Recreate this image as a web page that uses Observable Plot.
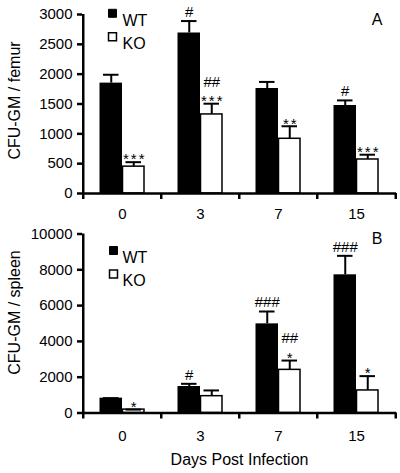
<!DOCTYPE html>
<html><head><meta charset="utf-8">
<script src="https://cdn.jsdelivr.net/npm/d3@7"></script>
<script src="https://cdn.jsdelivr.net/npm/@observablehq/plot@0.6"></script>
<style>
html,body{margin:0;padding:0;background:#fff;}
#chart svg{display:block;}
</style></head><body><div id="chart"></div>
<script>
// ---- data ----
const days = ["0", "3", "7", "15"];
const groups = ["WT", "KO"];
const panelLetters = ["A", "B"];
const yLabels = ["CFU-GM / femur", "CFU-GM / spleen"];
const xLabel = "Days Post Infection";

const femurWT = [1850, 2690, 1760, 1475];
const femurWTErr = [140, 200, 110, 85];
const femurKO = [450, 1325, 917, 570];
const femurKOErr = [75, 180, 210, 80];
const femurTicks = [0, 500, 1000, 1500, 2000, 2500, 3000];
const femurWTHash = ["", "#", "", "#"];
const femurKOStar = ["***", "***", "**", "***"];
const femurKOHash = ["", "##", "", ""];

const spleenWT = [830, 1480, 4980, 7720];
const spleenWTErr = [0, 150, 690, 1060];
const spleenKO = [190, 940, 2410, 1260];
const spleenKOErr = [0, 320, 520, 800];
const spleenTicks = [0, 2000, 4000, 6000, 8000, 10000];
const spleenWTHash = ["", "#", "###", "###"];
const spleenKOStar = ["*", "", "*", "*"];
const spleenKOHash = ["", "", "##", ""];

// ---- helpers ----
const rows = (vals, errs) => days.map((d, i) => ({day: d, value: vals[i], top: vals[i] + errs[i]}));
const ann = (labels, base) => days.map((d, i) => ({day: d, top: base[i].top, label: labels[i]})).filter(a => a.label);

function panel(o) {
  const W = 400, ML = 82, MR = 4;
  const bw = (W - ML - MR) / days.length;
  const wt = rows(o.wt, o.wtErr), ko = rows(o.ko, o.koErr);
  const yMax = o.ticks[o.ticks.length - 1];
  const axisW = 2.5;
  const marks = [
    Plot.barY(wt, {x: "day", y: "value", fill: "black", insetLeft: 16.5, insetRight: 39}),
    Plot.barY(ko, {x: "day", y: "value", fill: "white", stroke: "black", strokeWidth: 1.5, insetLeft: 39.5, insetRight: 17}),
    Plot.ruleX(wt, {x: "day", y1: "value", y2: "top", dx: -11.25, strokeWidth: 2}),
    Plot.ruleX(ko, {x: "day", y1: "value", y2: "top", dx: 11.25, strokeWidth: 2}),
    Plot.tickY(wt, {x: "day", y: "top", insetLeft: 20, insetRight: 42.5, strokeWidth: 2}),
    Plot.tickY(ko, {x: "day", y: "top", insetLeft: 42.5, insetRight: 20, strokeWidth: 2}),
    Plot.text(ann(o.wtHash, wt), {x: "day", y: "top", text: "label", dx: -11.25, dy: -9, fontSize: 15}),
    Plot.text(ann(o.koStar, ko), {x: "day", y: "top", text: "label", dx: 12.25, dy: -2.5, fontSize: 15}),
    Plot.text(ann(o.koHash, ko), {x: "day", y: "top", text: "label", dx: 11.25, dy: -22, fontSize: 15}),
    // axes
    Plot.axisY({ticks: o.ticks, tickFormat: d3.format("d"), tickSize: 5, tickPadding: 5, strokeWidth: axisW, label: null, fontSize: 15}),
    Plot.axisX({tickSize: 0, tickPadding: o.xPad, label: null, fontSize: 15}),
    Plot.ruleY([0], {strokeWidth: axisW}),
    Plot.ruleX([days[0]], {x: d => d, y1: yMax, y2: 0, dx: -bw / 2, insetBottom: -6, strokeWidth: axisW}),
    Plot.ruleX(days.slice(1), {x: d => d, y1: 0, y2: 0, dx: -bw / 2, insetBottom: -6, strokeWidth: axisW}),
    Plot.ruleX([days[days.length - 1]], {x: d => d, y1: 0, y2: 0, dx: bw / 2, insetBottom: -6, strokeWidth: axisW}),
    // y title
    Plot.text([o.ylabel], {frameAnchor: "left", text: d => d, rotate: -90, dx: -68, dy: o.yTitleDy, fontSize: 16, textAnchor: "middle", lineAnchor: "middle"}),
    // legend
    Plot.dot([groups[0]], {frameAnchor: "top-left", dx: o.legDx, dy: o.legDy[0], symbol: "square", r: 4.5, fill: "black", stroke: "black", strokeWidth: 1}),
    Plot.dot([groups[1]], {frameAnchor: "top-left", dx: o.legDx, dy: o.legDy[1], symbol: "square", r: 4.5, fill: "white", stroke: "black", strokeWidth: 1.5}),
    Plot.text([groups[0]], {frameAnchor: "top-left", text: d => d, dx: 40, dy: o.legDy[0] + 1, textAnchor: "start", fontSize: 16}),
    Plot.text([groups[1]], {frameAnchor: "top-left", text: d => d, dx: 40, dy: o.legDy[1] + 1, textAnchor: "start", fontSize: 16}),
    // panel letter
    Plot.text([o.letter], {frameAnchor: "top-right", text: d => d, dx: -14, dy: o.letterDy, fontSize: 16})
  ];
  if (o.xlabel) marks.push(Plot.text([o.xlabel], {frameAnchor: "bottom", text: d => d, dy: 51.5, lineAnchor: "bottom", fontSize: 16}));
  const svg = Plot.plot({
    width: W, height: o.height,
    marginLeft: ML, marginRight: MR, marginTop: o.mt, marginBottom: o.mb,
    x: {type: "band", domain: days, padding: 0},
    y: {domain: [0, yMax]},
    style: {fontFamily: "'Liberation Sans', Arial, sans-serif", fontSize: "15px", color: "black", background: "white", overflow: "visible"},
    marks
  });
  svg.querySelectorAll("text").forEach(t => { if (/^\*+$/.test(t.textContent)) t.style.letterSpacing = "2px"; });
  return svg;
}

const chart = document.getElementById("chart");
chart.append(panel({
  wt: femurWT, wtErr: femurWTErr, ko: femurKO, koErr: femurKOErr,
  wtHash: femurWTHash, koStar: femurKOStar, koHash: femurKOHash,
  ticks: femurTicks, ylabel: yLabels[0], letter: panelLetters[0],
  height: 226, mt: 14, mb: 33, xPad: 15, yTitleDy: -3.5,
  legDx: 30, legDy: [-1.2, 22.3], letterDy: -0.5
}));
chart.append(panel({
  wt: spleenWT, wtErr: spleenWTErr, ko: spleenKO, koErr: spleenKOErr,
  wtHash: spleenWTHash, koStar: spleenKOStar, koHash: spleenKOHash,
  ticks: spleenTicks, ylabel: yLabels[1], letter: panelLetters[1], xlabel: xLabel,
  height: 247, mt: 7.5, mb: 60.5, xPad: 17, yTitleDy: -11,
  legDx: 31, legDy: [16.5, 40], letterDy: -1
}));
</script></body></html>
